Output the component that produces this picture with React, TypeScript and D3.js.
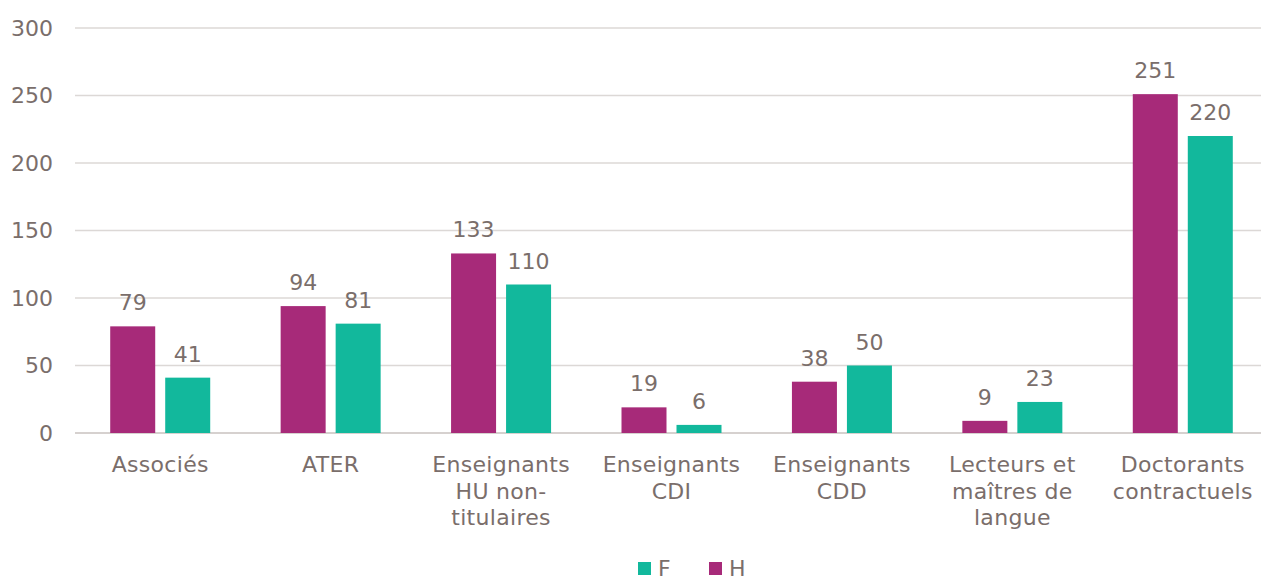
import React from 'react';
import * as d3 from 'd3';

const width = 1261;
const height = 581;
const margin = { top: 28, right: -7, bottom: 148, left: 75 };

const categories = [
  'Associés',
  'ATER',
  'Enseignants HU non-titulaires',
  'Enseignants CDI',
  'Enseignants CDD',
  'Lecteurs et maîtres de langue',
  'Doctorants contractuels',
];
const categoryLines = [
  ['Associés'],
  ['ATER'],
  ['Enseignants', 'HU non-', 'titulaires'],
  ['Enseignants', 'CDI'],
  ['Enseignants', 'CDD'],
  ['Lecteurs et', 'maîtres de', 'langue'],
  ['Doctorants', 'contractuels'],
];
const valuesH = [79, 94, 133, 19, 38, 9, 251];
const valuesF = [41, 81, 110, 6, 50, 23, 220];
const yTicks = [0, 50, 100, 150, 200, 250, 300];

const series = [
  { key: 'H', values: valuesH, color: '#A72A79' },
  { key: 'F', values: valuesF, color: '#12B89C' },
];
const legendOrder = ['F', 'H'];

const textColor = '#7A6E6B';
const font = 'DejaVu Sans, Verdana, sans-serif';
const fontSize = 22;

const App = () => {
  const x0 = d3
    .scaleBand<string>()
    .domain(categories)
    .range([margin.left, width - margin.right]);

  const x1 = d3
    .scaleBand<string>()
    .domain(series.map((s) => s.key))
    .range([0, 100])
    .paddingInner(10 / 55);

  const y = d3
    .scaleLinear()
    .domain([0, 300])
    .range([height - margin.bottom, margin.top]);

  const groupOffset = (x0.bandwidth() - 100) / 2;

  return (
    <svg
      width={width}
      height={height}
      style={{ position: 'absolute', left: 0, top: 0, fontFamily: font }}
    >
      {yTicks.map((t) => (
        <g key={t}>
          <line
            x1={margin.left}
            x2={width}
            y1={y(t)}
            y2={y(t)}
            stroke={t === 0 ? '#D6D1CF' : '#DCD8D6'}
            strokeWidth={t === 0 ? 2 : 1.5}
          />
          <text
            x={53}
            y={y(t)}
            dy="0.35em"
            textAnchor="end"
            fontSize={fontSize}
            fill={textColor}
          >
            {t}
          </text>
        </g>
      ))}

      {categories.map((c, i) => (
        <g key={c} transform={`translate(${x0(c)! + groupOffset},0)`}>
          {series.map((s) => {
            const v = s.values[i];
            const bx = x1(s.key)!;
            return (
              <g key={s.key}>
                <rect
                  x={bx}
                  y={y(v)}
                  width={x1.bandwidth()}
                  height={y(0) - y(v)}
                  fill={s.color}
                />
                <text
                  x={bx + x1.bandwidth() / 2}
                  y={y(v) - 16}
                  textAnchor="middle"
                  fontSize={fontSize}
                  fill={textColor}
                >
                  {v}
                </text>
              </g>
            );
          })}
        </g>
      ))}

      {categories.map((c, i) => (
        <text
          key={c}
          x={x0(c)! + x0.bandwidth() / 2}
          y={y(0) + 39}
          textAnchor="middle"
          fontSize={fontSize}
          letterSpacing={0.3}
          fill={textColor}
        >
          {categoryLines[i].map((line, j) => (
            <tspan key={j} x={x0(c)! + x0.bandwidth() / 2} dy={j === 0 ? 0 : 26.5}>
              {line}
            </tspan>
          ))}
        </text>
      ))}

      <g transform="translate(638,562)">
        {legendOrder.map((k, i) => {
          const s = series.find((d) => d.key === k)!;
          return (
            <g key={k} transform={`translate(${i * 71},0)`}>
              <rect width={13} height={13} fill={s.color} />
              <text x={20} y={14} fontSize={fontSize} fill={textColor}>
                {k}
              </text>
            </g>
          );
        })}
      </g>
    </svg>
  );
};

export default App;
